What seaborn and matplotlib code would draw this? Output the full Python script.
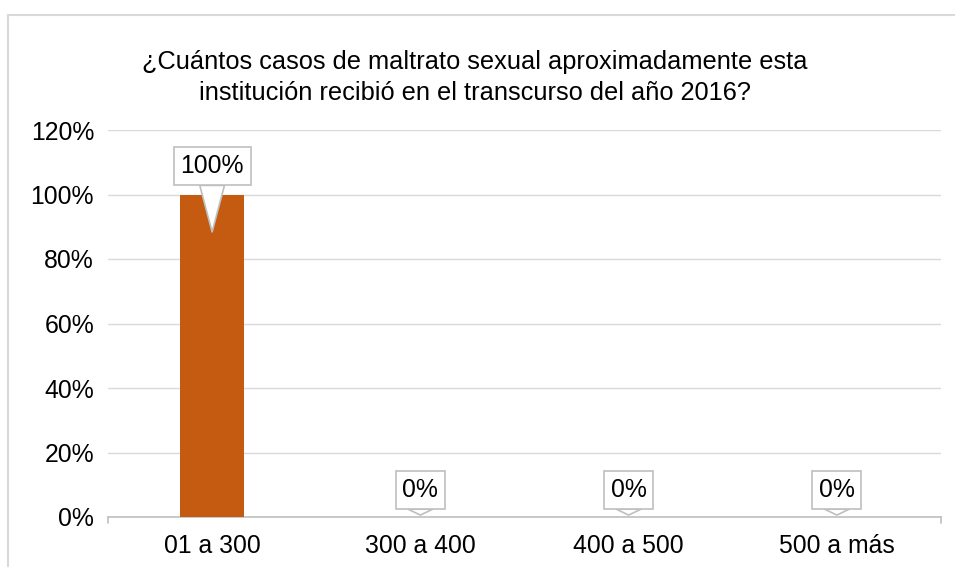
import matplotlib
matplotlib.use("Agg")
import matplotlib.pyplot as plt
import seaborn as sns
import pandas as pd
from matplotlib.patches import Rectangle
from matplotlib.ticker import MultipleLocator, PercentFormatter

categories = ["01 a 300", "300 a 400", "400 a 500", "500 a más"]
values = [100, 0, 0, 0]
title = "¿Cuántos casos de maltrato sexual aproximadamente esta\ninstitución recibió en el transcurso del año 2016?"

bar_color = "#C55A11"
grid_color = "#D9D9D9"

sns.set_theme(style="white")
plt.rcParams["font.family"] = ["Liberation Sans", "DejaVu Sans"]

df = pd.DataFrame({"cat": categories, "val": values})

fig = plt.figure(figsize=(9.55, 5.67), dpi=100)
ax = fig.add_axes([108 / 955, 1 - 517 / 567, 833 / 955, 387 / 567])

# chart frame (cut by the picture edge on the right and bottom)
fig.patches.append(Rectangle((8 / 955, -0.2), 1.2, 1.2 - 15 / 567,
                             transform=fig.transFigure, fill=False,
                             ec=grid_color, lw=1.5, zorder=0))

sns.barplot(data=df, x="cat", y="val", color=bar_color, width=0.31,
            saturation=1, linewidth=0, ax=ax, zorder=3)

ax.set_ylim(0, 120)
ax.set_xlim(-0.5, len(categories) - 0.5)
ax.yaxis.set_major_locator(MultipleLocator(20))
ax.yaxis.set_major_formatter(PercentFormatter(decimals=0))
ax.grid(axis="y", color=grid_color, lw=1, zorder=0)
ax.set_xlabel("")
ax.set_ylabel("")
for s in ["top", "right", "left"]:
    ax.spines[s].set_visible(False)
ax.spines["bottom"].set_color("#BFBFBF")
ax.spines["bottom"].set_linewidth(1.2)
ax.tick_params(axis="both", labelsize=17.8, colors="#404040", length=0, pad=10)
ax.tick_params(axis="x", pad=12)
for lab in ax.get_xticklabels() + ax.get_yticklabels():
    lab.set_color("black")

# tick marks at the axis ends
ax.plot([-0.5, -0.5], [0, -2], color="#BFBFBF", lw=1.2, clip_on=False)
ax.plot([len(categories) - 0.5] * 2, [0, -2], color="#BFBFBF", lw=1.2, clip_on=False)

# callout labels
for i, v in enumerate(values):
    if v > 0:
        tip = v - 11.6
        ytext = v + 8.8
    else:
        tip = v + 0.6
        ytext = v + 8.4
    ax.annotate(f"{v}%", xy=(i, tip), xytext=(i, ytext),
                ha="center", va="center", fontsize=17.8, color="black",
                bbox=dict(boxstyle="square,pad=0.27", fc="white", ec="#BFBFBF", lw=1.2),
                arrowprops=dict(arrowstyle="wedge,tail_width=1.0,shrink_factor=0.5",
                                fc="white", ec="#BFBFBF", lw=1.2,
                                shrinkA=0, shrinkB=0),
                zorder=5)

fig.text(475 / 955, 1 - 77.5 / 567, title, ha="center", va="center",
         fontsize=18.3, linespacing=1.37, color="black")

fig.savefig("out.png", dpi=100)
